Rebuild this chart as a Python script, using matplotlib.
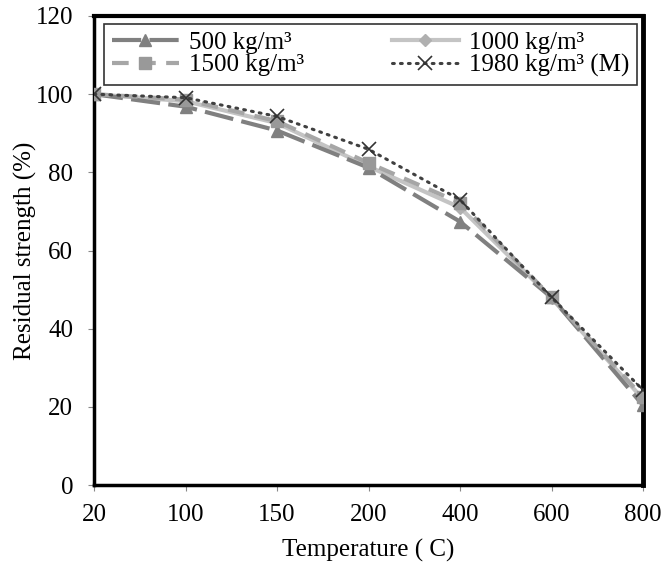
import matplotlib
matplotlib.use("Agg")
import matplotlib.pyplot as plt
import numpy as np

plt.rcParams['font.family'] = ['Liberation Serif', 'DejaVu Serif']

temperatures = ["20", "100", "150", "200", "400", "600", "800"]
d500 = [100, 96.8, 90.7, 81.2, 67.4, 48.0, 20.4]
d1000 = [100, 98.2, 92.6, 81.5, 71.0, 47.8, 22.0]
d1500 = [100, 98.6, 93.1, 82.4, 72.2, 48.0, 22.5]
d1980 = [100, 99.1, 94.3, 85.9, 73.0, 48.0, 24.3]

FS = 18

fig = plt.figure(figsize=(6.64, 5.64), dpi=100)
ax = fig.add_axes([94/664, 1 - 485/564, (643-94)/664, (485-16)/564])

x = np.arange(len(temperatures))

l500, = ax.plot(x, d500, color='#808080', lw=3, dashes=(7, 2), marker='^', ms=9,
                markeredgecolor='#808080', label='500 kg/m³', zorder=3)
l1000, = ax.plot(x, d1000, color='#c4c4c4', lw=3, ls='-', marker='D', ms=6.5,
                 markerfacecolor='#b0b0b0', markeredgecolor='#b0b0b0',
                 label='1000 kg/m³', zorder=2)
l1500, = ax.plot(x, d1500, color='#a6a6a6', lw=3, dashes=(4, 2.5), marker='s', ms=9,
                 markerfacecolor='#999999', markeredgecolor='#999999',
                 label='1500 kg/m³', zorder=4)
l1980, = ax.plot(x, d1980, color='#404040', lw=2.2, ls=(0, (0.6, 2)),
                 dash_capstyle='round', marker='x', ms=10, mew=1.2,
                 markeredgecolor='#333333', label='1980 kg/m³ (M)', zorder=5)

ax.set_xlim(0, len(temperatures) - 1)
ax.set_ylim(0, 120)
ax.set_xticks(x)
ax.set_xticklabels(temperatures)
ax.set_yticks(np.arange(0, 121, 20))

ax.tick_params(axis='both', direction='out', length=4.5, width=0.8, color='#888888',
               labelsize=FS)
ax.tick_params(axis='y', pad=10.6)
ax.tick_params(axis='x', pad=9.2)

for side in ['top', 'right', 'bottom', 'left']:
    ax.spines[side].set_color('black')
ax.spines['top'].set_linewidth(3)
ax.spines['right'].set_linewidth(3.5)
ax.spines['bottom'].set_linewidth(2.5)
ax.spines['left'].set_linewidth(2.5)

ax.set_xlabel('Temperature ( C)', fontsize=FS, labelpad=9)
ax.set_ylabel('Residual strength (%)', fontsize=FS, labelpad=-1)

leg = ax.legend([l500, l1500, l1000, l1980],
                [l500.get_label(), l1500.get_label(), l1000.get_label(), l1980.get_label()],
                ncol=2, loc='upper left', bbox_to_anchor=((104-94)/549, 1 - (24-16)/469),
                borderaxespad=0, fontsize=FS, frameon=True, fancybox=False,
                edgecolor='black', handlelength=2.7, columnspacing=3.5,
                borderpad=0.3, labelspacing=0.0, handletextpad=0.4)
leg.get_frame().set_linewidth(1.2)

fig.savefig('out.png', dpi=100)
